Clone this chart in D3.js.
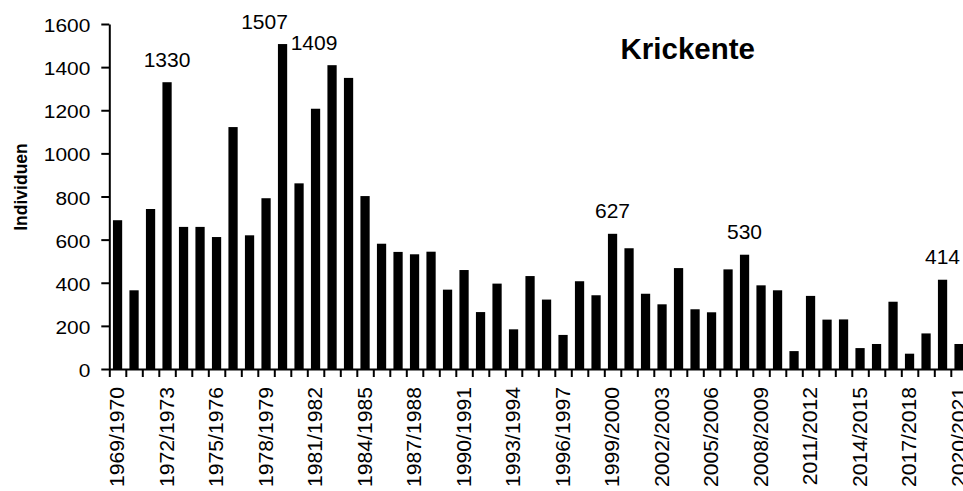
<!DOCTYPE html>
<html>
<head>
<meta charset="utf-8">
<script src="https://cdn.jsdelivr.net/npm/d3@7"></script>
<style>
  html, body { margin: 0; padding: 0; background: #fff; }
  svg { display: block; font-family: "Liberation Sans", Arial, Helvetica, sans-serif; }
</style>
</head>
<body>
<svg id="chart" width="963" height="491"></svg>
<script>
// ---- data ----
const seasons = [
  "1969/1970","1970/1971","1971/1972","1972/1973","1973/1974","1974/1975","1975/1976","1976/1977",
  "1977/1978","1978/1979","1979/1980","1980/1981","1981/1982","1982/1983","1983/1984","1984/1985",
  "1985/1986","1986/1987","1987/1988","1988/1989","1989/1990","1990/1991","1991/1992","1992/1993",
  "1993/1994","1994/1995","1995/1996","1996/1997","1997/1998","1998/1999","1999/2000","2000/2001",
  "2001/2002","2002/2003","2003/2004","2004/2005","2005/2006","2006/2007","2007/2008","2008/2009",
  "2009/2010","2010/2011","2011/2012","2012/2013","2013/2014","2014/2015","2015/2016","2016/2017",
  "2017/2018","2018/2019","2019/2020","2020/2021"
];
const individuals = [
  690, 365, 742, 1330, 659, 659, 612, 1122,
  620, 792, 1507, 861, 1207, 1409, 1350, 802,
  581, 543, 532, 544, 368, 459, 264, 396,
  184, 431, 322, 158, 407, 342, 627, 560,
  349, 300, 468, 277, 263, 462, 530, 388,
  365, 83, 339, 229, 230, 97, 116, 312,
  71, 165, 414, 116
];
const labelledSeasons = ["1972/1973","1979/1980","1982/1983","1999/2000","2007/2008","2019/2020"];
const xTickLabels = seasons.filter((s, i) => i % 3 === 0);
const yTicks = [0, 200, 400, 600, 800, 1000, 1200, 1400, 1600];
const chartTitle = "Krickente";
const yTitle = "Individuen";

// ---- layout ----
const svg = d3.select("#chart");
const x0 = 109.3, xStep = 16.5;
const x = d3.scaleBand()
  .domain(seasons)
  .range([x0, x0 + xStep * seasons.length])
  .paddingInner(0.44)
  .paddingOuter(0.22);
const y = d3.scaleLinear().domain([0, 1600]).range([369, 24]);
const xEdges = d3.scaleLinear().domain([0, seasons.length]).range([x0, x0 + xStep * seasons.length]);

// bars
svg.append("g").selectAll("rect")
  .data(seasons)
  .join("rect")
  .attr("x", d => x(d))
  .attr("width", x.bandwidth())
  .attr("y", (d, i) => y(individuals[i]))
  .attr("height", (d, i) => y(0) - y(individuals[i]))
  .attr("fill", "#000");

// y axis
const yAxis = svg.append("g")
  .attr("transform", `translate(${x0},0)`)
  .call(d3.axisLeft(y).tickValues(yTicks).tickSize(8).tickSizeOuter(0).tickFormat(d3.format("d")));
yAxis.select(".domain").attr("stroke", "#000").attr("stroke-width", 2);
yAxis.selectAll(".tick line").attr("stroke", "#000").attr("stroke-width", 2);
yAxis.selectAll(".tick text")
  .attr("x", 0).attr("dy", "0.4em")
  .attr("transform", "translate(-19,0) scale(1.1,1)")
  .attr("font-size", 19)
  .attr("fill", "#000")
  .attr("font-family", "Liberation Sans, Arial, sans-serif");

// x axis (ticks at band boundaries)
const xAxis = svg.append("g")
  .attr("transform", `translate(0,${y(0)})`)
  .call(d3.axisBottom(xEdges).tickValues(d3.range(0, seasons.length + 1)).tickSize(8).tickSizeOuter(0).tickFormat(""));
xAxis.select(".domain").attr("stroke", "#000").attr("stroke-width", 2);
xAxis.selectAll(".tick line").attr("stroke", "#000").attr("stroke-width", 2);

// x labels
svg.append("g").selectAll("text")
  .data(xTickLabels)
  .join("text")
  .attr("transform", d => `translate(${x(d) + x.bandwidth() / 2},387) rotate(-90) scale(1.085,1)`)
  .attr("text-anchor", "end")
  .attr("dy", "0.35em")
  .attr("font-size", 19.5)
  .attr("fill", "#000")
  .text(d => d);

// value annotations
const annotationShift = { "1979/1980": -18, "1982/1983": -18 };
svg.append("g").selectAll("text")
  .data(labelledSeasons)
  .join("text")
  .attr("x", d => x(d) + x.bandwidth() / 2 + (annotationShift[d] || 0))
  .attr("y", d => y(individuals[seasons.indexOf(d)]) - 15.5)
  .attr("text-anchor", "middle")
  .attr("font-size", 21)
  .attr("fill", "#000")
  .text(d => individuals[seasons.indexOf(d)]);

// title
svg.append("text")
  .attr("x", 620.5).attr("y", 59.3)
  .attr("font-size", 29.5)
  .attr("font-weight", "bold")
  .attr("fill", "#000")
  .text(chartTitle);

// y axis title
svg.append("text")
  .attr("transform", "translate(27,187) rotate(-90)")
  .attr("text-anchor", "middle")
  .attr("font-size", 17.5)
  .attr("font-weight", "bold")
  .attr("fill", "#000")
  .text(yTitle);
</script>
</body>
</html>
